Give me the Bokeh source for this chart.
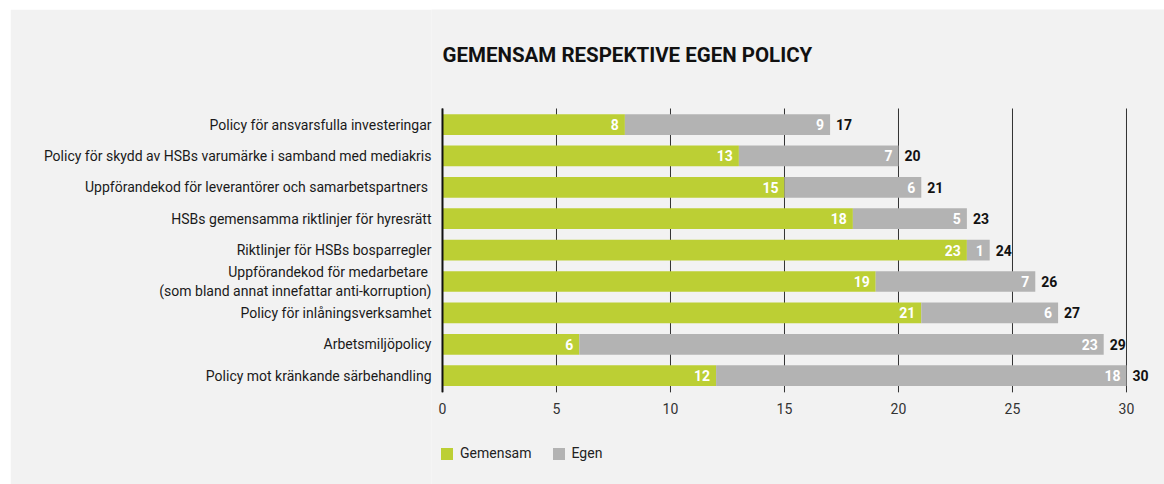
from bokeh.plotting import figure
from bokeh.models import ColumnDataSource, Range1d, FixedTicker, Legend, LegendItem, Spacer
from bokeh.layouts import column, row
from bokeh.core.properties import value
from bokeh.embed import file_html
from bokeh.resources import INLINE

title_text = "GEMENSAM RESPEKTIVE EGEN POLICY"
categories = [
    "Policy för ansvarsfulla investeringar",
    "Policy för skydd av HSBs varumärke i samband med mediakris",
    "Uppförandekod för leverantörer och samarbetspartners ",
    "HSBs gemensamma riktlinjer för hyresrätt",
    "Riktlinjer för HSBs bosparregler",
    "Uppförandekod för medarbetare \n(som bland annat innefattar anti-korruption)",
    "Policy för inlåningsverksamhet",
    "Arbetsmiljöpolicy",
    "Policy mot kränkande särbehandling",
]
gemensam = [8, 13, 15, 18, 23, 19, 21, 6, 12]
egen = [9, 7, 6, 5, 1, 7, 6, 23, 18]
totals = [17, 20, 21, 23, 24, 26, 27, 29, 30]
x_ticks = [0, 5, 10, 15, 20, 25, 30]
series_names = ["Gemensam", "Egen"]

GREEN = "#bccf34"
GREY = "#b3b3b3"
BG = "#f2f2f2"
FONT = "Roboto"

n = len(categories)
ypos = [n - 1 - i for i in range(n)]
Y_LO, Y_HI = -0.53, 8.51   # extent of the bar area (grid lines, axis line)

src = ColumnDataSource(dict(
    y=ypos,
    Gemensam=gemensam,
    Egen=egen,
    total=totals,
    g_lbl=[str(v) for v in gemensam],
    e_lbl=[str(v) for v in egen],
    t_lbl=[str(v) for v in totals],
))

p = figure(width=1154, height=475, output_backend="svg", toolbar_location=None,
           x_range=Range1d(-0.482, 31.667), y_range=Range1d(-3.465, 11.663),
           x_axis_location=None,
           min_border_left=421, min_border_right=0, min_border_top=0, min_border_bottom=0)
p.background_fill_color = BG
p.border_fill_color = BG
p.outline_line_color = None
p.xgrid.grid_line_color = None
p.ygrid.grid_line_color = None

# chart title
p.text(x=[0], y=[Y_HI], text=[title_text], text_align="left", text_baseline="middle",
       x_offset=0, y_offset=-54, text_color="#111111", text_font=value(FONT),
       text_font_size="20.5px", text_font_style="bold")

# vertical grid lines at the x ticks, limited to the bar area
p.segment(x0=x_ticks, y0=[Y_LO] * len(x_ticks), x1=x_ticks, y1=[Y_HI] * len(x_ticks),
          line_color="#333333", line_width=1)

rs = p.hbar_stack(series_names, y="y", height=0.66, color=[GREEN, GREY], source=src, line_color=None)

# value axis line at 0
p.segment(x0=[0], y0=[Y_LO], x1=[0], y1=[Y_HI], line_color="#111111", line_width=2)

# value labels
p.text(x="Gemensam", y="y", text="g_lbl", source=src, text_align="right", text_baseline="middle",
       x_offset=-6, text_color="white", text_font=value(FONT), text_font_size="14px", text_font_style="bold")
p.text(x="total", y="y", text="e_lbl", source=src, text_align="right", text_baseline="middle",
       x_offset=-6, text_color="white", text_font=value(FONT), text_font_size="14px", text_font_style="bold")
p.text(x="total", y="y", text="t_lbl", source=src, text_align="left", text_baseline="middle",
       x_offset=6, text_color="#111111", text_font=value(FONT), text_font_size="14px", text_font_style="bold")

# x tick labels
p.text(x=x_ticks, y=[Y_LO] * len(x_ticks), text=[str(v) for v in x_ticks],
       text_align="center", text_baseline="top", y_offset=11,
       text_color="#333333", text_font=value(FONT), text_font_size="14px")

# category axis
p.yaxis.ticker = FixedTicker(ticks=ypos)
p.yaxis.major_label_overrides = {y: c for y, c in zip(ypos, categories)}
p.yaxis.major_tick_line_color = None
p.yaxis.minor_tick_line_color = None
p.yaxis.axis_line_color = None
p.yaxis.major_label_standoff = -6
p.yaxis.major_label_text_font = FONT
p.yaxis.major_label_text_font_size = "14px"
p.yaxis.major_label_text_color = "#1a1a1a"

legend = Legend(items=[LegendItem(label=series_names[0], renderers=[rs[0]]),
                       LegendItem(label=series_names[1], renderers=[rs[1]])],
                location=(8, 23), orientation="horizontal",
                background_fill_alpha=0, border_line_color=None,
                padding=0, margin=0, spacing=19, label_standoff=6,
                glyph_width=15, glyph_height=15,
                label_text_font=FONT, label_text_font_size="14px", label_text_color="#222222")
p.add_layout(legend, "center")

layout = column(Spacer(width=1164, height=9),
                row(Spacer(width=10, height=475), p))

open("out.html", "w").write(file_html(layout, INLINE))
